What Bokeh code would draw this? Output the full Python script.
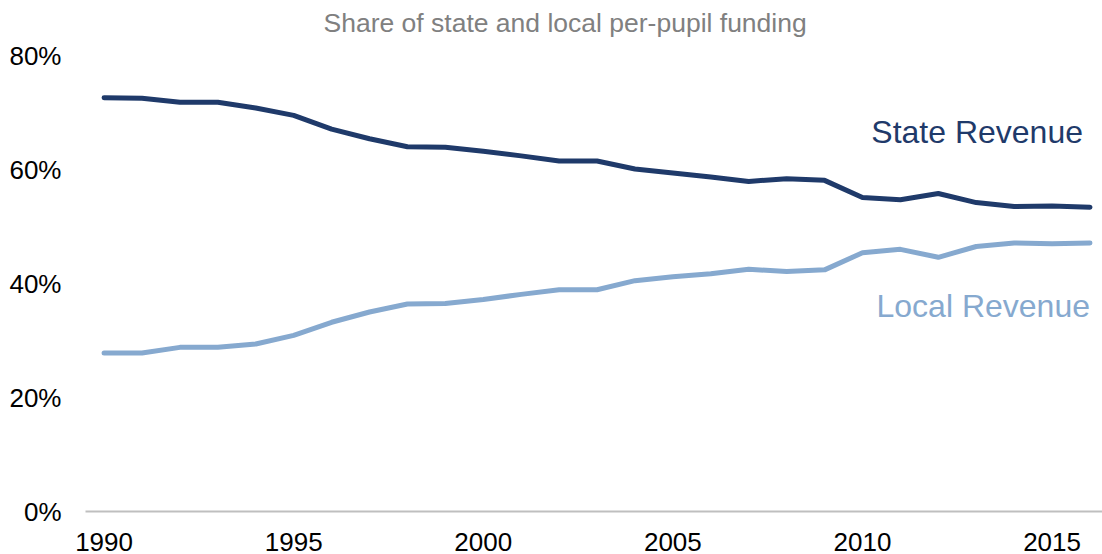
from bokeh.plotting import figure
from bokeh.models import Range1d, FixedTicker, PrintfTickFormatter, Label
from bokeh.embed import file_html
from bokeh.resources import INLINE

years = list(range(1990, 2017))
state_revenue = [72.6, 72.5, 71.8, 71.8, 70.8, 69.5, 67.1, 65.4, 64.0, 63.9,
                 63.2, 62.4, 61.5, 61.5, 60.1, 59.4, 58.7, 57.9, 58.4, 58.1,
                 55.1, 54.7, 55.8, 54.2, 53.5, 53.6, 53.4]
local_revenue = [27.8, 27.8, 28.8, 28.8, 29.4, 30.9, 33.2, 35.0, 36.4, 36.5,
                 37.2, 38.1, 38.9, 38.9, 40.5, 41.2, 41.7, 42.5, 42.1, 42.4,
                 45.4, 46.0, 44.6, 46.5, 47.1, 47.0, 47.1]
x_ticks = [1990, 1995, 2000, 2005, 2010, 2015]
y_ticks = [0, 20, 40, 60, 80]
title_text = "Share of state and local per-pupil funding"
state_name = "State Revenue"
local_name = "Local Revenue"

STATE_COLOR = "#1F3A6A"
LOCAL_COLOR = "#86A9CF"
FONT = "Liberation Sans"

# frame spans the full height above the axis; the range end leaves room for the title
x_start, x_end = 1989.51, 2016.33
y_top = 89.66
p = figure(width=1102, height=554, output_backend="svg", toolbar_location=None,
           x_range=Range1d(x_start, x_end),
           y_range=Range1d(y_ticks[0], y_top),
           min_border_left=85, min_border_right=0, min_border_top=0,
           min_border_bottom=43)
p.outline_line_color = None
p.grid.visible = False
p.background_fill_color = "white"
p.border_fill_color = "white"

p.line(years, state_revenue, line_color=STATE_COLOR, line_width=5,
       line_cap="round", line_join="round")
p.line(years, local_revenue, line_color=LOCAL_COLOR, line_width=5,
       line_cap="round", line_join="round")

xa = p.xaxis[0]
xa.ticker = FixedTicker(ticks=x_ticks)
xa.axis_line_color = "#BFBFBF"
xa.axis_line_width = 2
xa.major_tick_line_color = None
xa.minor_tick_line_color = None
xa.major_tick_out = 0
xa.major_tick_in = 0
xa.minor_tick_out = 0
xa.major_label_text_font = FONT
xa.major_label_text_font_size = "26px"
xa.major_label_text_color = "black"
xa.major_label_standoff = 21

ya = p.yaxis[0]
ya.ticker = FixedTicker(ticks=y_ticks)
ya.formatter = PrintfTickFormatter(format="%d%%")
ya.axis_line_color = None
ya.major_tick_line_color = None
ya.minor_tick_line_color = None
ya.major_tick_out = 0
ya.major_tick_in = 0
ya.minor_tick_out = 0
ya.major_label_text_font = FONT
ya.major_label_text_font_size = "26px"
ya.major_label_text_color = "black"
ya.major_label_standoff = 24

# chart title
p.add_layout(Label(x=x_start, y=y_ticks[-1], text=title_text,
                   x_offset=238, y_offset=33, text_align="left",
                   text_baseline="alphabetic", text_font=FONT,
                   text_font_size="26.5px", text_color="#808080"))

# series labels
p.add_layout(Label(x=years[-1], y=state_revenue[-1], text=state_name,
                   x_offset=-7, y_offset=75, text_align="right",
                   text_baseline="middle", text_font=FONT,
                   text_font_size="32px", text_color=STATE_COLOR))
p.add_layout(Label(x=years[-1], y=local_revenue[-1], text=local_name,
                   x_offset=0, y_offset=-63, text_align="right",
                   text_baseline="middle", text_font=FONT,
                   text_font_size="32px", text_color=LOCAL_COLOR))

open("out.html", "w").write(file_html(p, INLINE))
